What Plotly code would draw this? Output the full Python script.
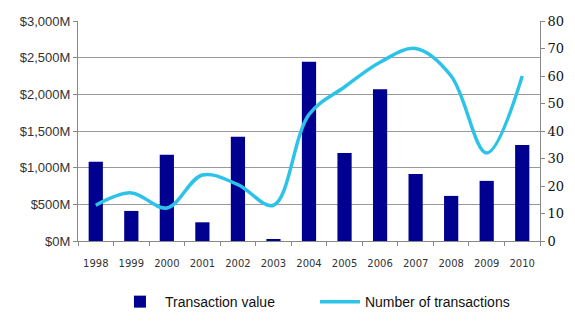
import plotly.graph_objects as go

years = ["1998", "1999", "2000", "2001", "2002", "2003", "2004", "2005", "2006", "2007", "2008", "2009", "2010"]
transaction_value = [1080, 410, 1175, 255, 1420, 15, 2445, 1200, 2070, 915, 615, 820, 1310]
num_transactions = [13, 17.5, 12, 24, 20.5, 13, 46, 56, 65, 70, 60, 32, 60]
left_ticks = [0, 500, 1000, 1500, 2000, 2500, 3000]
left_labels = ["$0M", "$500M", "$1,000M", "$1,500M", "$2,000M", "$2,500M", "$3,000M"]
right_ticks = [0, 10, 20, 30, 40, 50, 60, 70, 80]

fig = go.Figure()
fig.add_trace(go.Bar(x=years, y=transaction_value, name="Transaction value",
                     marker=dict(color="#000090", line=dict(width=0)), width=0.4))
fig.add_trace(go.Scatter(x=years, y=num_transactions, name="Number of transactions", yaxis="y2",
                         mode="lines", line=dict(color="#2DC3E8", width=3.5, shape="spline", smoothing=1.0)))

fig.update_layout(
    width=575, height=322,
    margin=dict(l=78, r=35, t=21, b=81, autoexpand=False),
    paper_bgcolor="white", plot_bgcolor="white",
    font=dict(family="Liberation Sans, Arial", color="#222"),
    bargap=0.6,
    showlegend=True,
    legend=dict(orientation="h", x=0.08, xanchor="left", yref="container", y=0.062, yanchor="middle",
                font=dict(size=14, color="#111"), itemwidth=40, entrywidth=145,
                traceorder="normal"),
    xaxis=dict(type="category", showline=True, linecolor="#888", linewidth=1, automargin=False,
               ticks="outside", ticklen=4, tickcolor="#888", tickson="boundaries",
               ticklabelstandoff=13,
               tickfont=dict(size=10, color="#333", family="DejaVu Sans"), showgrid=False),
    yaxis=dict(range=[0, 3000], tickvals=left_ticks, ticktext=left_labels, automargin=False,
               showline=True, linecolor="#888", ticks="outside", ticklen=4, tickcolor="#888",
               showgrid=True, gridcolor="#999", gridwidth=1, zeroline=False,
               tickfont=dict(size=13, color="#333")),
    yaxis2=dict(range=[0, 80], tickvals=right_ticks, overlaying="y", side="right", automargin=False,
                showline=True, linecolor="#888", ticks="outside", ticklen=4, tickcolor="#888",
                showgrid=False, zeroline=False,
                tickfont=dict(size=13, color="#111", family="DejaVu Serif")),
)

fig.write_html("out.html")
